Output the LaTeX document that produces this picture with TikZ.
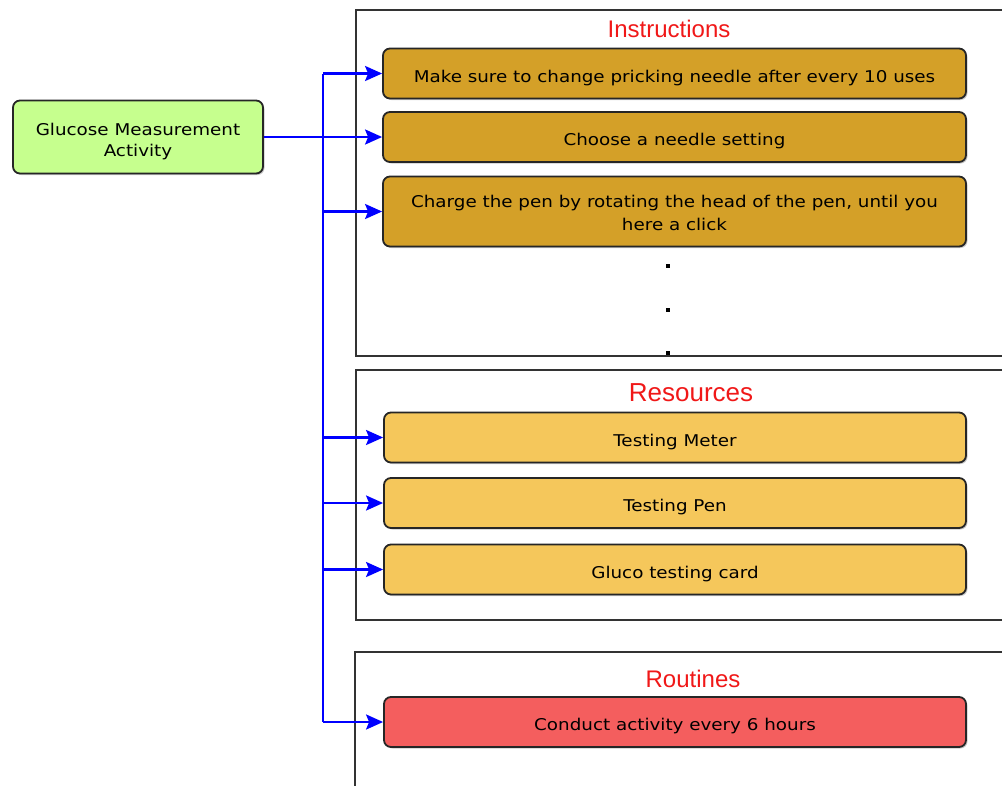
\documentclass[tikz,border=0pt]{standalone}
\usepackage{fontspec}
\setmainfont{DejaVu Sans}[FakeStretch=1.13]
\newfontfamily\titlefont{Liberation Sans}
\usetikzlibrary{arrows.meta,shadows}
\definecolor{activitygreen}{HTML}{C6FF8E}
\definecolor{instrgold}{HTML}{D4A028}
\definecolor{resgold}{HTML}{F5C75B}
\definecolor{routinered}{HTML}{F45E5E}
\definecolor{framegray}{HTML}{333333}
\definecolor{titlered}{HTML}{F01818}
% two centred lines, set a little lower than the box centre
\newcommand{\pairlines}[3]{\raisebox{#1}[\height][\depth]{\begin{tabular}{@{}c@{}}#2\\#3\end{tabular}}}
\begin{document}
\begin{tikzpicture}[x=1pt,y=-1pt,
  card/.style={draw=black!85, line width=1.8pt, rounded corners=7pt,
    align=center, inner sep=2pt,
    font=\fontsize{16.2}{23}\selectfont,
    execute at begin node={\rule{0pt}{20.5pt}},
    drop shadow={shadow xshift=1.5pt, shadow yshift=-1.5pt, fill=black!35, opacity=0.6}},
  instr/.style={card, fill=instrgold, minimum width=583pt, minimum height=50pt},
  res/.style={card, fill=resgold, minimum width=582pt, minimum height=50pt},
  routine/.style={card, fill=routinered, minimum width=582pt, minimum height=50pt},
  activity/.style={card, fill=activitygreen, minimum width=250pt, minimum height=73pt,
    font=\fontsize{16.2}{21}\selectfont},
  frame/.style={draw=framegray, line width=1.8pt},
  sectiontitle/.style={text=titlered, inner sep=0pt},
  link/.style={draw=blue, line width=2.4pt},
  linkarrow/.style={link, -{Stealth[length=17pt, width=15pt, inset=3pt]}},
  dot/.style={fill=black, inner sep=0pt, minimum size=3.2pt}
]
\useasboundingbox (0,0) rectangle (1002,785);

% section frames, open to the right
\begin{scope}
  \clip (0,0) rectangle (1002,785);
  \draw[frame] (356,10) rectangle (1012,356);
  \draw[frame] (356,370) rectangle (1012,620);
  \draw[frame] (355,652) rectangle (1012,800);
\end{scope}

% section titles
\node[sectiontitle, font=\titlefont\fontsize{24}{24}\selectfont] (tInstr) at (669,29) {Instructions};
\node[sectiontitle, font=\titlefont\fontsize{26}{26}\selectfont] (tRes) at (691,393) {Resources};
\node[sectiontitle, font=\titlefont\fontsize{24}{24}\selectfont] (tRout) at (693,679) {Routines};

% root activity
\node[activity] (act) at (138,137) {\pairlines{-5pt}{Glucose Measurement}{Activity}};

% instructions
\node[instr] (i1) at (674.5,73.5) {Make sure to change pricking needle after every 10 uses};
\node[instr] (i2) at (674.5,137) {Choose a needle setting};
\node[instr, minimum height=70pt] (i3) at (674.5,211.5) {\pairlines{-3pt}{Charge the pen by rotating the head of the pen, until you}{here a click}};
\node[dot] (d1) at (668,266) {};
\node[dot] (d2) at (668,310) {};
\node[dot] (d3) at (668,353) {};

% resources
\node[res] (r1) at (675,437.5) {Testing Meter};
\node[res] (r2) at (675,503) {Testing Pen};
\node[res] (r3) at (675,569.5) {Gluco testing card};

% routines
\node[routine] (o1) at (675,722) {Conduct activity every 6 hours};

% connectors: one trunk feeding every item
\coordinate (trunkTop) at (323,73.5);
\coordinate (trunkBot) at (323,722);
\draw[link] (trunkTop) -- (trunkBot);
\draw[linkarrow] (act.east) -- (i2.west);
\foreach \n in {i1,i3,r1,r2,r3,o1}
  \draw[linkarrow] (trunkTop |- \n.west) -- (\n.west);
\end{tikzpicture}
\end{document}
